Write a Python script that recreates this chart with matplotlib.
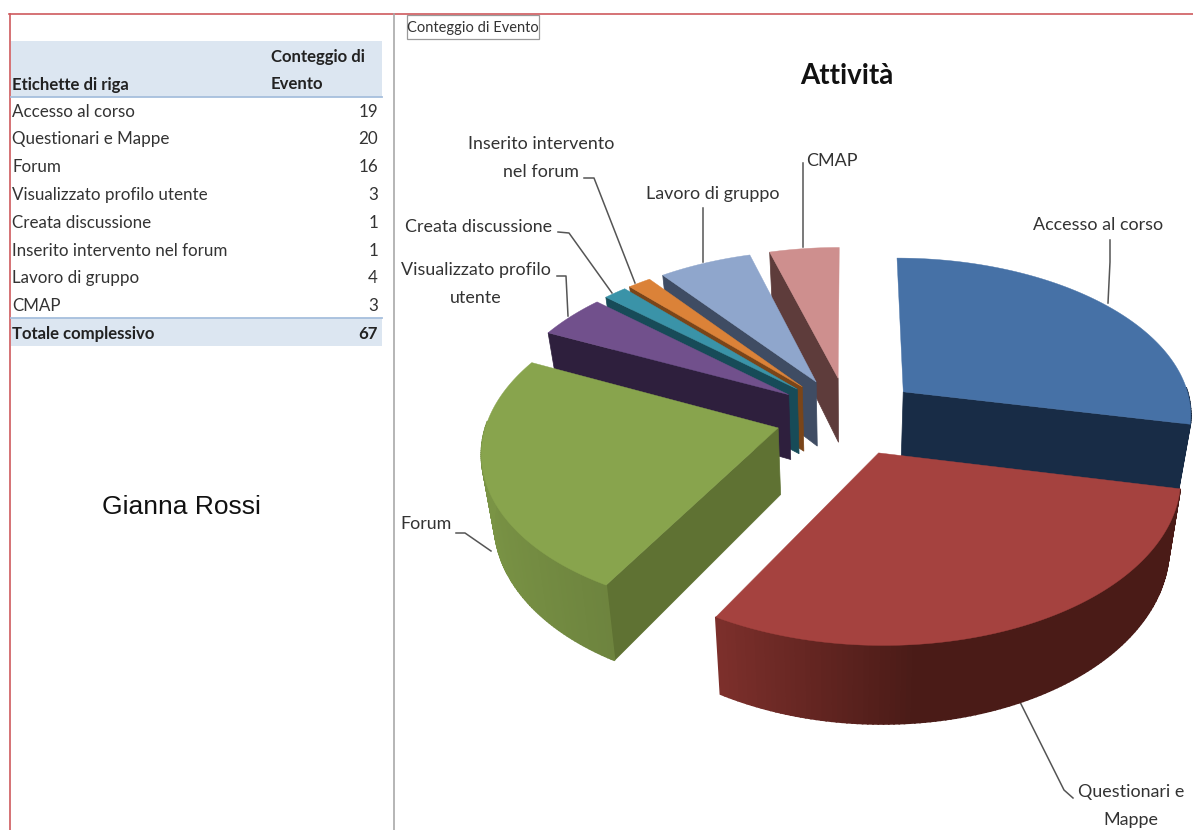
import matplotlib
matplotlib.use("Agg")
import matplotlib.pyplot as plt
import numpy as np
from matplotlib.colors import to_rgb

plt.rcParams["font.family"] = ["Lato", "DejaVu Sans"]

categories = [
    "Accesso al corso",
    "Questionari e Mappe",
    "Forum",
    "Visualizzato profilo utente",
    "Creata discussione",
    "Inserito intervento nel forum",
    "Lavoro di gruppo",
    "CMAP",
]
values = [19, 20, 16, 3, 1, 1, 4, 3]
total = 67
table_rows_y = [112, 139, 167, 195, 223, 251, 278, 306]

top_colors = ["#4671A6", "#A5423F", "#88A44D", "#71508C", "#3A93A8", "#DB8238", "#8FA6CC", "#CE8F8E"]
face_colors = ["#182C46", "#4A1B17", "#5F7233", "#2E1F3D", "#174B58", "#7A4519", "#3F4C63", "#5E3C3B"]
rim_light = ["#3B5F8C", "#7E302C", "#7E9947", "#4D3663", "#2D7486", "#A8642A", "#6C7F9E", "#9E6C6B"]
rim_dark = ["#182C46", "#4A1B17", "#65793A", "#30213F", "#195060", "#7F4A1C", "#465470", "#633F3E"]

# pie geometry
cx, cy = 848, 416
rad_x, rad_y = 290, 157
persp = 0.13
explode = 0.25
depth = 66
squeeze = 0.035


def project(x, y, z=0.0):
    s = 1 / (1 + persp * y)
    px = (x * rad_x * s) * (1 - squeeze * z)
    py = -y * rad_y * s + z * depth * s
    return cx + px, cy + py


def draw_wedge(ax, i, start, end):
    mid = (start + end) / 2
    ox, oy = explode * np.sin(mid), explode * np.cos(mid)
    theta = np.linspace(start, end, 120)
    x = ox + np.sin(theta)
    y = oy + np.cos(theta)

    # only the cut face turned towards the viewer
    for a, visible in ((start, np.sin(start) < -1e-6), (end, np.sin(end) > 1e-6)):
        if not visible:
            continue
        ex, ey = ox + np.sin(a), oy + np.cos(a)
        p = [project(ox, oy), project(ex, ey), project(ex, ey, 1), project(ox, oy, 1)]
        ax.fill(*zip(*p), color=face_colors[i], lw=0.5, zorder=2)

    # outer rim, small strips so the shading can run along it
    c1, c2 = np.array(to_rgb(rim_light[i])), np.array(to_rgb(rim_dark[i]))
    for k in range(len(theta) - 1):
        if np.cos(theta[k]) > 0.03:
            continue
        p = [project(x[k], y[k]), project(x[k + 1], y[k + 1]),
             project(x[k + 1], y[k + 1], 1), project(x[k], y[k], 1)]
        if i == 1:
            t = np.clip((np.sin(theta[k]) + 0.5) / 0.6, 0, 1)
        elif i == 2:
            t = np.clip(1.15 - abs(np.sin(theta[k])), 0, 1)
        else:
            t = 1.0
        ax.fill(*zip(*p), color=c1 + (c2 - c1) * t, ec=c1 + (c2 - c1) * t, lw=1.2, zorder=2)

    # top of the slice
    top = [project(ox, oy)] + [project(a, b) for a, b in zip(x, y)]
    ax.fill(*zip(*top), color=top_colors[i], lw=0.3, zorder=2)


fig = plt.figure(figsize=(11.93, 8.3), dpi=100)
ax = fig.add_axes([0, 0, 1, 1])
ax.set_xlim(0, 1193)
ax.set_ylim(830, 0)
ax.axis("off")

# frame and divider
ax.plot([9, 1193], [14, 14], color="#CE5A5E", lw=1.2)
ax.plot([9.5, 9.5], [14, 830], color="#CE5A5E", lw=1.2)
ax.plot([394, 394], [14, 830], color="#A9A9A9", lw=1.2)

# table
ax.fill_between([11, 382], 41, 97, color="#DCE6F1", lw=0)
ax.fill_between([11, 382], 318, 346, color="#DCE6F1", lw=0)
ax.plot([11, 382], [97, 97], color="#A6BFDD", lw=1.3)
ax.plot([11, 382], [318, 318], color="#A6BFDD", lw=1.3)
ax.text(12, 85, "Etichette di riga", fontsize=12.1, fontweight="bold", color="#222222", va="center")
ax.text(271, 57, "Conteggio di", fontsize=12.1, fontweight="bold", color="#222222", va="center")
ax.text(271, 84, "Evento", fontsize=12.1, fontweight="bold", color="#222222", va="center")
for name, val, y in zip(categories, values, table_rows_y):
    ax.text(12, y, name, fontsize=12.25, color="#333333", va="center")
    ax.text(378, y, str(val), fontsize=12.25, color="#333333", va="center", ha="right")
ax.text(12, 334, "Totale complessivo", fontsize=12.1, fontweight="bold", color="#222222", va="center")
ax.text(378, 334, str(total), fontsize=12.1, fontweight="bold", color="#222222", va="center", ha="right")

ax.text(181, 507, "Gianna Rossi", fontsize=19, family="Liberation Sans", color="#111111", ha="center", va="center")

# field button
ax.add_patch(plt.Rectangle((407, 15), 132, 24, fc="white", ec="#9A9A9A", lw=0.9))
ax.text(473, 28, "Conteggio di Evento", fontsize=10.5, color="#333333", ha="center", va="center")

ax.text(847, 76, "Attività", fontsize=20, fontweight="bold", color="#111111", ha="center", va="center")

# pie: slices go clockwise from 12 o'clock, far ones are painted first
edges = np.cumsum([0] + values) / sum(values) * 2 * np.pi
mids = (edges[:-1] + edges[1:]) / 2
for i in np.argsort(-np.cos(mids)):
    draw_wedge(ax, i, edges[i], edges[i + 1])

# data labels and leader lines
labels = [
    (1098, 225, "Accesso al corso"),
    (1131, 792, "Questionari e"),
    (1131, 820, "Mappe"),
    (426, 524, "Forum"),
    (476, 270, "Visualizzato profilo"),
    (476, 298, "utente"),
    (479, 227, "Creata discussione"),
    (541, 144, "Inserito intervento"),
    (541, 172, "nel forum"),
    (713, 194, "Lavoro di gruppo"),
    (832, 161, "CMAP"),
]
for x, y, s in labels:
    ax.text(x, y, s, fontsize=12.9, color="#333333", ha="center", va="center")

leaders = [
    ([1110, 1110, 1108], [240, 262, 303]),
    ([1019, 1064, 1073], [700, 790, 798]),
    ([456, 465, 491], [533, 533, 551]),
    ([557, 566, 568], [276, 276, 316]),
    ([558, 569, 612], [232, 233, 293]),
    ([584, 594, 635], [178, 178, 283]),
    ([703, 703], [208, 262]),
    ([803, 803], [163, 247]),
]
for xs, ys in leaders:
    ax.plot(xs, ys, color="#555555", lw=1.1, zorder=1)

plt.savefig("out.png", dpi=100)
